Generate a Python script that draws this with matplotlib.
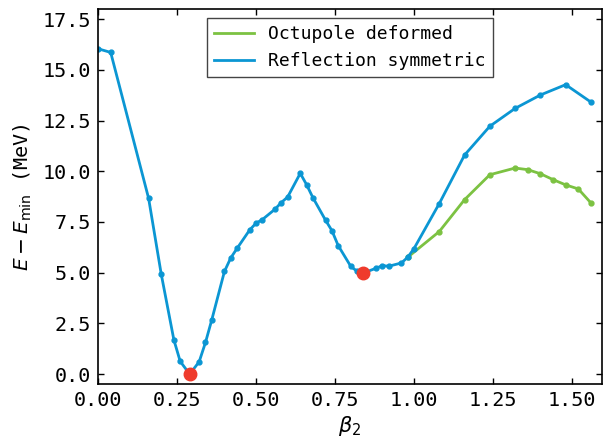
import matplotlib
matplotlib.use("Agg")
import matplotlib.pyplot as plt

plt.rcParams['font.family'] = ['DejaVu Sans Mono', 'DejaVu Sans']
plt.rcParams['mathtext.fontset'] = 'dejavusans'

# Reflection symmetric curve
beta_sym = [0.00, 0.04, 0.16, 0.20, 0.24, 0.26, 0.29, 0.32, 0.34, 0.36, 0.40,
            0.42, 0.44, 0.48, 0.50, 0.52, 0.56, 0.58, 0.60, 0.64, 0.66, 0.68,
            0.72, 0.74, 0.76, 0.80, 0.82, 0.84, 0.88, 0.90, 0.92, 0.96, 0.98,
            1.00, 1.08, 1.16, 1.24, 1.32, 1.40, 1.48, 1.56]
e_sym = [16.04, 15.86, 8.67, 4.93, 1.69, 0.63, 0.00, 0.61, 1.56, 2.68, 5.06,
         5.73, 6.20, 7.11, 7.44, 7.62, 8.13, 8.46, 8.73, 9.90, 9.34, 8.70,
         7.59, 7.08, 6.34, 5.31, 5.07, 4.99, 5.22, 5.35, 5.32, 5.48, 5.76,
         6.19, 8.41, 10.80, 12.22, 13.10, 13.76, 14.27, 13.41]

# Octupole deformed curve
beta_oct = [0.98, 1.08, 1.16, 1.24, 1.32, 1.36, 1.40, 1.44, 1.48, 1.52, 1.56]
e_oct = [5.76, 7.03, 8.60, 9.83, 10.16, 10.08, 9.88, 9.59, 9.33, 9.13, 8.44]

# Minima
beta_min = [0.29, 0.84]
e_min = [0.00, 4.99]

green = '#7cc242'
blue = '#0b96d3'
red = '#ef3b2c'

fig = plt.figure(figsize=(6.09, 4.41), dpi=100)
ax = fig.add_axes([0.161, 0.1286, 0.8275, 0.851])

ax.plot(beta_oct, e_oct, '-', color=green, lw=2, label='Octupole deformed')
ax.plot(beta_oct, e_oct, 'o', color=green, ms=3.5, label='_nolegend_')
ax.plot(beta_sym, e_sym, '-', color=blue, lw=2, label='Reflection symmetric')
ax.plot(beta_sym, e_sym, 'o', color=blue, ms=3.5, label='_nolegend_')
ax.plot(beta_min, e_min, 'o', color=red, ms=9, zorder=5, linestyle='none',
        label='_nolegend_')

ax.set_xlim(0, 1.595)
ax.set_ylim(-0.5, 18)
ax.set_xticks([0.0, 0.25, 0.5, 0.75, 1.0, 1.25, 1.5])
ax.set_yticks([0.0, 2.5, 5.0, 7.5, 10.0, 12.5, 15.0, 17.5])
ax.set_xticklabels(['0.00', '0.25', '0.50', '0.75', '1.00', '1.25', '1.50'])
ax.set_yticklabels(['0.0', '2.5', '5.0', '7.5', '10.0', '12.5', '15.0', '17.5'])
ax.tick_params(direction='in', top=True, right=True, length=4.5, width=1,
               labelsize=14.5, pad=5)
for s in ax.spines.values():
    s.set_linewidth(1.2)

ax.set_xlabel(r'$\beta_2$', fontsize=15, labelpad=3)
ax.set_ylabel(r'$E - E_{\mathrm{min}}$ (MeV)', fontsize=14.5, labelpad=6)

leg = ax.legend(loc='upper center', fontsize=13, fancybox=False,
                edgecolor='#444444', framealpha=1, handlelength=2.2)
leg.get_frame().set_linewidth(1.0)

fig.savefig('out.png', dpi=100)
